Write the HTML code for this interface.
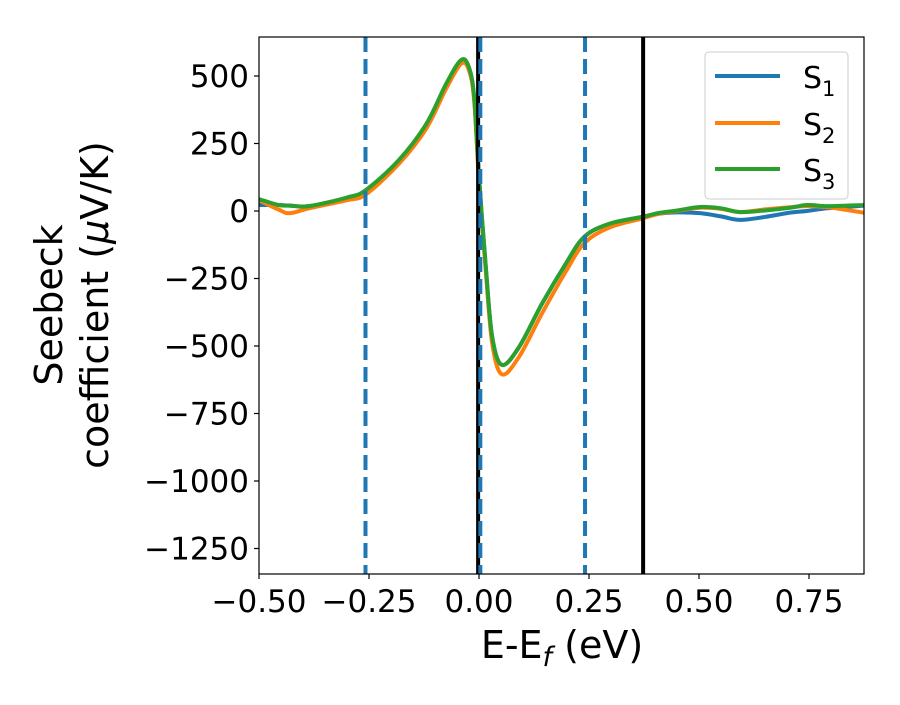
<!DOCTYPE html>
<html><head><meta charset="utf-8"><style>
body{margin:0;background:#fff}
svg text{font-family:"DejaVu Sans","Liberation Sans",sans-serif;fill:#000}
</style></head><body>
<svg id="chart" width="900" height="700" viewBox="0 0 900 700" xmlns="http://www.w3.org/2000/svg">
<rect width="900" height="700" fill="#fff"/>
<g id="plot"></g>
<g id="axes"></g>
<g>
<rect x="705" y="52" width="143" height="147" rx="4" fill="#fff" fill-opacity="0.8" stroke="#ccc" stroke-width="1"/>
<g><line x1="715" y1="76" x2="780" y2="76" stroke="#1f77b4" stroke-width="4"/><text x="803" y="88" font-size="30">S<tspan font-size="21" dy="8">1</tspan></text></g>
<g><line x1="715" y1="123" x2="780" y2="123" stroke="#ff7f0e" stroke-width="4"/><text x="803" y="135" font-size="30">S<tspan font-size="21" dy="8">2</tspan></text></g>
<g><line x1="715" y1="169" x2="780" y2="169" stroke="#2ca02c" stroke-width="4"/><text x="803" y="181" font-size="30">S<tspan font-size="21" dy="8">3</tspan></text></g>
</g>
<text x="562" y="658" font-size="38" text-anchor="middle">E-E<tspan font-size="27" dy="8" font-style="italic">f</tspan><tspan dy="-8"> (eV)</tspan></text>
<g transform="translate(0,305) rotate(-90)">
<text x="0" y="62" font-size="38" text-anchor="middle">Seebeck</text>
<text x="0" y="108" font-size="38" text-anchor="middle">coefficient  (<tspan font-style="italic">μ</tspan>V/K)</text>
</g>
</svg>
<script>
const xTicks=[-0.5,-0.25,0,0.25,0.5,0.75];
const xTickLabels=["−0.50","−0.25","0.00","0.25","0.50","0.75"];
const yTicks=[500,250,0,-250,-500,-750,-1000,-1250];
const yTickLabels=["500","250","0","−250","−500","−750","−1000","−1250"];
const xs=[-0.5,-0.455,-0.43,-0.386,-0.3,-0.257,-0.182,-0.12,-0.075,-0.041,-0.023,-0.011,0,0.016,0.03,0.052,0.091,0.143,0.197,0.239,0.295,0.37,0.41,0.45,0.502,0.55,0.593,0.65,0.707,0.745,0.79,0.835,0.877];
const s1=[22,22,20,18,48,76,186,318,466,552,528,418,126,-219,-467,-570,-504,-344,-196,-96,-48,-22,-10,-5,-8,-20,-33,-22,-6,0,10,15,20];
const s2=[40,5,-8,10,40,62,175,305,452,545,522,410,110,-235,-490,-605,-540,-380,-225,-120,-62,-28,-10,0,12,8,-4,6,14,18,15,4,-7];
const s3=[44,22,20,18,50,78,189,322,470,559,533,422,126,-219,-467,-570,-504,-344,-196,-96,-48,-22,-7,2,15,10,-4,2,12,22,18,20,22];
const vLines=[{x:-0.258,dash:true},{x:-0.002,dash:false},{x:0.003,dash:true},{x:0.241,dash:true},{x:0.373,dash:false}];
const X0=259,X1=864,Y0=37,Y1=574;
const sx=v=>479+v*440;
const sy=v=>211-v*0.27;
const NS="http://www.w3.org/2000/svg";
const plot=document.getElementById('plot'),axes=document.getElementById('axes');
function mk(tag,attrs,parent){const e=document.createElementNS(NS,tag);for(const k in attrs)e.setAttribute(k,attrs[k]);parent.appendChild(e);return e;}
const defs=mk('defs',{},plot);const cp=mk('clipPath',{id:'clip'},defs);mk('rect',{x:X0,y:Y0,width:X1-X0,height:Y1-Y0},cp);
const g=mk('g',{'clip-path':'url(#clip)'},plot);
function path(ys){const p=xs.map((x,i)=>[sx(x),sy(ys[i])]);let d='M'+p[0][0]+','+p[0][1];
for(let i=0;i<p.length-1;i++){const a=p[Math.max(0,i-1)],b=p[i],c=p[i+1],e=p[Math.min(p.length-1,i+2)];
d+=' C'+(b[0]+(c[0]-a[0])/6)+','+(b[1]+(c[1]-a[1])/6)+' '+(c[0]-(e[0]-b[0])/6)+','+(c[1]-(e[1]-b[1])/6)+' '+c[0]+','+c[1];}return d;}
[[s1,'#1f77b4','series-s1'],[s2,'#ff7f0e','series-s2'],[s3,'#2ca02c','series-s3']].forEach(([ys,c,n])=>{
const e=mk('path',{d:path(ys),fill:'none',stroke:c,'stroke-width':4,'stroke-linejoin':'round'},g);

});
vLines.forEach((v,i)=>{const e=mk('line',{x1:sx(v.x),x2:sx(v.x),y1:Y0,y2:Y1,stroke:v.dash?'#1f77b4':'#000','stroke-width':v.dash?4:4,'stroke-dasharray':v.dash?'15,7':'none'},g);

});
const fr=mk('rect',{x:X0,y:Y0,width:X1-X0,height:Y1-Y0,fill:'none',stroke:'#000','stroke-width':1.2},axes);


xTicks.forEach((t,i)=>{mk('line',{x1:sx(t),x2:sx(t),y1:Y1,y2:Y1+5,stroke:'#000','stroke-width':1.2},axes);
const e=mk('text',{x:sx(t),y:612,'font-size':31,'text-anchor':'middle'},axes);e.textContent=xTickLabels[i];

});
yTicks.forEach((t,i)=>{mk('line',{x1:X0-5,x2:X0,y1:sy(t),y2:sy(t),stroke:'#000','stroke-width':1.2},axes);
const e=mk('text',{x:X0-10,y:sy(t)+11,'font-size':31,'text-anchor':'end'},axes);e.textContent=yTickLabels[i];

});
</script>
</body></html>
